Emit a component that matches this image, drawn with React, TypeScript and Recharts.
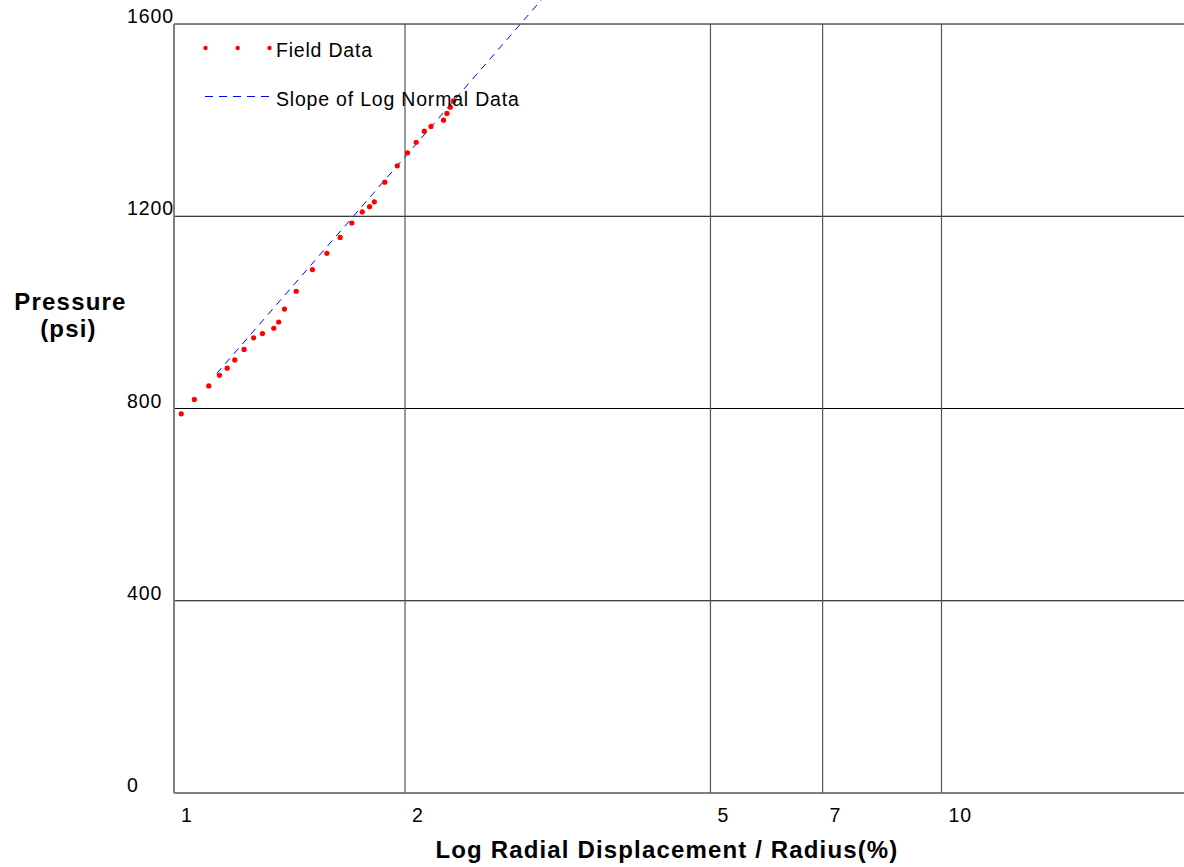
import React from 'react';
import {
  ComposedChart,
  XAxis,
  YAxis,
  CartesianGrid,
  Scatter,
  Line,
  Legend,
  ReferenceLine,
  Label,
} from 'recharts';

// Field data: radial displacement / radius (%) vs pressure (psi)
const fieldDisp = [
  1.022, 1.063, 1.110, 1.146, 1.173, 1.200, 1.234, 1.270, 1.304, 1.349,
  1.369, 1.393, 1.443, 1.515, 1.582, 1.646, 1.705, 1.759, 1.798, 1.824,
  1.882, 1.954, 2.015, 2.068, 2.119, 2.162, 2.245, 2.268, 2.291, 2.313,
];
const fieldPressure = [
  789, 819, 847, 869, 884, 901, 923, 947, 956, 967,
  980, 1007, 1044, 1089, 1123, 1156, 1186, 1209, 1220, 1230,
  1271, 1305, 1332, 1354, 1377, 1387, 1400, 1414, 1427, 1440,
];

// Slope of log normal data (straight line in log-x)
const slopeDisp = [1.137, 3.01];
const slopePressure = [873, 1650];

const xTicks = [1, 2, 5, 7, 10];
const yTicks = [0, 400, 800, 1200, 1600];
const xGridValues = [2, 5, 7, 10];

const fieldData = fieldDisp.map((x, i) => ({ x, y: fieldPressure[i] }));
const slopeData = slopeDisp.map((x, i) => ({ x, y: slopePressure[i] }));

const FONT = '"Liberation Sans", Arial, Helvetica, sans-serif';

const XTick = (props: any) => {
  const { x, y, payload } = props;
  return (
    <text x={x + 7} y={y + 29} fontFamily={FONT} fontSize={19.5} letterSpacing={0.8} fill="#000" textAnchor="start">
      {payload.value}
    </text>
  );
};

const YTick = (props: any) => {
  const { x, y, payload } = props;
  return (
    <text x={x - 47} y={y - 1} fontFamily={FONT} fontSize={19.5} letterSpacing={0.9} fill="#000" textAnchor="start">
      {payload.value}
    </text>
  );
};

const XTitle = (props: any) => {
  const vb = props.viewBox;
  return (
    <text x={vb.x + 493} y={vb.y + 65} fontFamily={FONT} fontSize={24} fontWeight="bold" letterSpacing={1.15} textAnchor="middle" fill="#000">
      Log Radial Displacement / Radius(%)
    </text>
  );
};

const YTitle = () => {
  return (
    <g>
      <text x={70.5} y={310} fontFamily={FONT} fontSize={24} fontWeight="bold" letterSpacing={1.2} textAnchor="middle" fill="#000">
        Pressure
      </text>
      <text x={68.5} y={337} fontFamily={FONT} fontSize={24} fontWeight="bold" letterSpacing={1.2} textAnchor="middle" fill="#000">
        (psi)
      </text>
    </g>
  );
};

const Dot = (props: any) => {
  const { cx, cy } = props;
  if (cx == null || cy == null) return null;
  return <circle cx={cx} cy={cy} r={2.6} fill="#ff0000" />;
};

const LegendContent = (props: any) => {
  const payload = props.payload || [];
  const field = payload.find((p: any) => p.value === 'Field Data');
  const slope = payload.find((p: any) => p.value === 'Slope of Log Normal Data');
  return (
    <svg width={560} height={120} style={{ display: 'block', overflow: 'visible' }}>
      <circle cx={205.5} cy={48} r={2.2} fill="#ff0000" />
      <circle cx={237.7} cy={48} r={2.2} fill="#ff0000" />
      <circle cx={269.5} cy={48} r={2.2} fill="#ff0000" />
      <text x={276} y={57} fontFamily={FONT} fontSize={19.5} letterSpacing={0.8} fill="#000">
        {field ? field.value : 'Field Data'}
      </text>
      <line x1={205} y1={96.5} x2={271} y2={96.5} stroke="#0000ff" strokeWidth={1} strokeDasharray="8 6" />
      <text x={276} y={105.5} fontFamily={FONT} fontSize={19.5} letterSpacing={0.8} fill="#000">
        {slope ? slope.value : 'Slope of Log Normal Data'}
      </text>
    </svg>
  );
};

export default function App() {
  return (
    <div style={{ position: 'absolute', left: 0, top: 0, width: 1184, height: 867, background: '#fff' }}>
      <ComposedChart
        width={1184}
        height={867}
        margin={{ top: 0, right: 0, bottom: 0, left: 0 }}
        style={{ fontFamily: FONT }}
      >
        <CartesianGrid vertical={false} horizontalValues={yTicks} stroke="#000" strokeWidth={1} />
        <XAxis
          type="number"
          dataKey="x"
          scale="log"
          domain={[1, 20.7]}
          allowDataOverflow
          ticks={xTicks}
          tick={<XTick />}
          tickSize={0}
          tickMargin={0}
          tickLine={false}
          axisLine={false}
          height={74}
          interval={0}
        >
          <Label content={<XTitle />} />
        </XAxis>
        <YAxis
          type="number"
          dataKey="y"
          domain={[0, 1650]}
          ticks={yTicks}
          tick={<YTick />}
          tickSize={0}
          tickMargin={0}
          tickLine={false}
          axisLine={false}
          width={174}
          interval={0}
        >
          <Label content={<YTitle />} />
        </YAxis>
        {xGridValues.map((v) => (
          <ReferenceLine
            key={v}
            segment={[{ x: v, y: 0 }, { x: v, y: 1600 }]}
            stroke="#555"
            strokeWidth={1.2}
            ifOverflow="visible"
          />
        ))}
        <ReferenceLine
          segment={[{ x: 1, y: 0 }, { x: 1, y: 1600 }]}
          stroke="#808080"
          strokeWidth={2}
          ifOverflow="visible"
        />
        <Legend
          layout="vertical"
          align="center"
          verticalAlign="middle"
          content={<LegendContent />}
          wrapperStyle={{ left: 0, top: 0, width: 560, height: 120 }}
        />
        <Line
          data={slopeData}
          dataKey="y"
          name="Slope of Log Normal Data"
          stroke="#0000ff"
          strokeWidth={1}
          strokeDasharray="7 6"
          dot={false}
          activeDot={false}
          isAnimationActive={false}
          legendType="line"
        />
        <Scatter
          data={fieldData}
          dataKey="y"
          name="Field Data"
          fill="#ff0000"
          shape={<Dot />}
          isAnimationActive={false}
        />
      </ComposedChart>
    </div>
  );
}
